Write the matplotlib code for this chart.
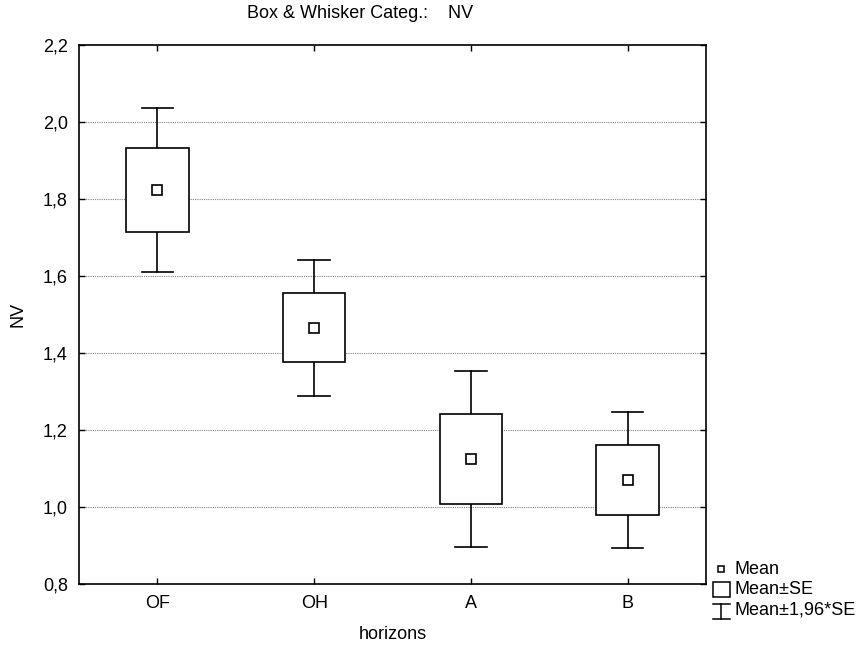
import numpy as np
import matplotlib
matplotlib.use("Agg")
from matplotlib import pyplot as plt
from matplotlib.patches import Rectangle
from matplotlib.lines import Line2D

plt.rcParams['font.family'] = ['Liberation Sans', 'DejaVu Sans']
plt.rcParams['font.size'] = 13

## data
categories = ['OF', 'OH', 'A', 'B']
means = [1.824, 1.466, 1.125, 1.070]
se = [0.109, 0.090, 0.117, 0.090]
yticks = [0.8, 1.0, 1.2, 1.4, 1.6, 1.8, 2.0, 2.2]

W, H = 864, 649
fig = plt.figure(figsize=(W / 100, H / 100), dpi=100)
ax = fig.add_axes([79 / W, 1 - 584 / H, (706 - 79) / W, (584 - 45) / H])

box_w = 0.40
cap_w = 0.20
x = np.arange(len(categories))
for xi, m, s in zip(x, means, se):
    lo, hi = m - 1.96 * s, m + 1.96 * s
    ax.plot([xi, xi], [lo, hi], color='black', lw=1.2, zorder=2)
    ax.plot([xi - cap_w / 2, xi + cap_w / 2], [hi, hi], color='black', lw=1.2, zorder=2)
    ax.plot([xi - cap_w / 2, xi + cap_w / 2], [lo, lo], color='black', lw=1.2, zorder=2)
    ax.add_patch(Rectangle((xi - box_w / 2, m - s), box_w, 2 * s,
                           facecolor='white', edgecolor='black', lw=1.2, zorder=3))
    ax.plot(xi, m, marker='s', ms=7, mfc='white', mec='black', mew=1.2, ls='none', zorder=4)

ax.set_xlim(-0.5, len(categories) - 0.5)
ax.set_ylim(0.8, 2.2)
ax.set_xticks(x)
ax.set_xticklabels(categories)
ax.set_yticks(yticks)
ax.set_yticklabels([f'{v:.1f}'.replace('.', ',') for v in yticks])
ax.tick_params(direction='in', length=4, width=1, top=True, right=True, pad=8)
for sp in ax.spines.values():
    sp.set_linewidth(1.2)
for v in yticks[1:-1]:
    ax.axhline(v, color='gray', lw=0.8, ls=(0, (1, 1)), zorder=1)

ax.set_xlabel('horizons', labelpad=10)
ax.set_ylabel('NV', labelpad=12)
fig.text(247 / W, 1 - 14 / H, 'Box & Whisker Categ.:    NV', ha='left', va='center')

## legend drawn at the bottom right (figure pixel positions)
def fx(xp):
    return xp / W

def fy(yp):
    return 1 - yp / H

fig.add_artist(Line2D([fx(721)], [fy(569)], marker='s', ms=5, mfc='white',
                      mec='black', mew=1.1, ls='none'))
fig.text(fx(735), fy(570), 'Mean', ha='left', va='center')
fig.add_artist(Rectangle((fx(713), fy(597)), 17 / W, 15 / H, transform=fig.transFigure,
                         facecolor='white', edgecolor='black', lw=1.1))
fig.text(fx(735), fy(590), 'Mean±SE', ha='left', va='center')
fig.add_artist(Line2D([fx(721)] * 2, [fy(604), fy(619)], color='black', lw=1.1))
fig.add_artist(Line2D([fx(713), fx(730)], [fy(604)] * 2, color='black', lw=1.1))
fig.add_artist(Line2D([fx(713), fx(730)], [fy(619)] * 2, color='black', lw=1.1))
fig.text(fx(735), fy(610), 'Mean±1,96*SE', ha='left', va='center')

fig.savefig('out.png', dpi=100)
